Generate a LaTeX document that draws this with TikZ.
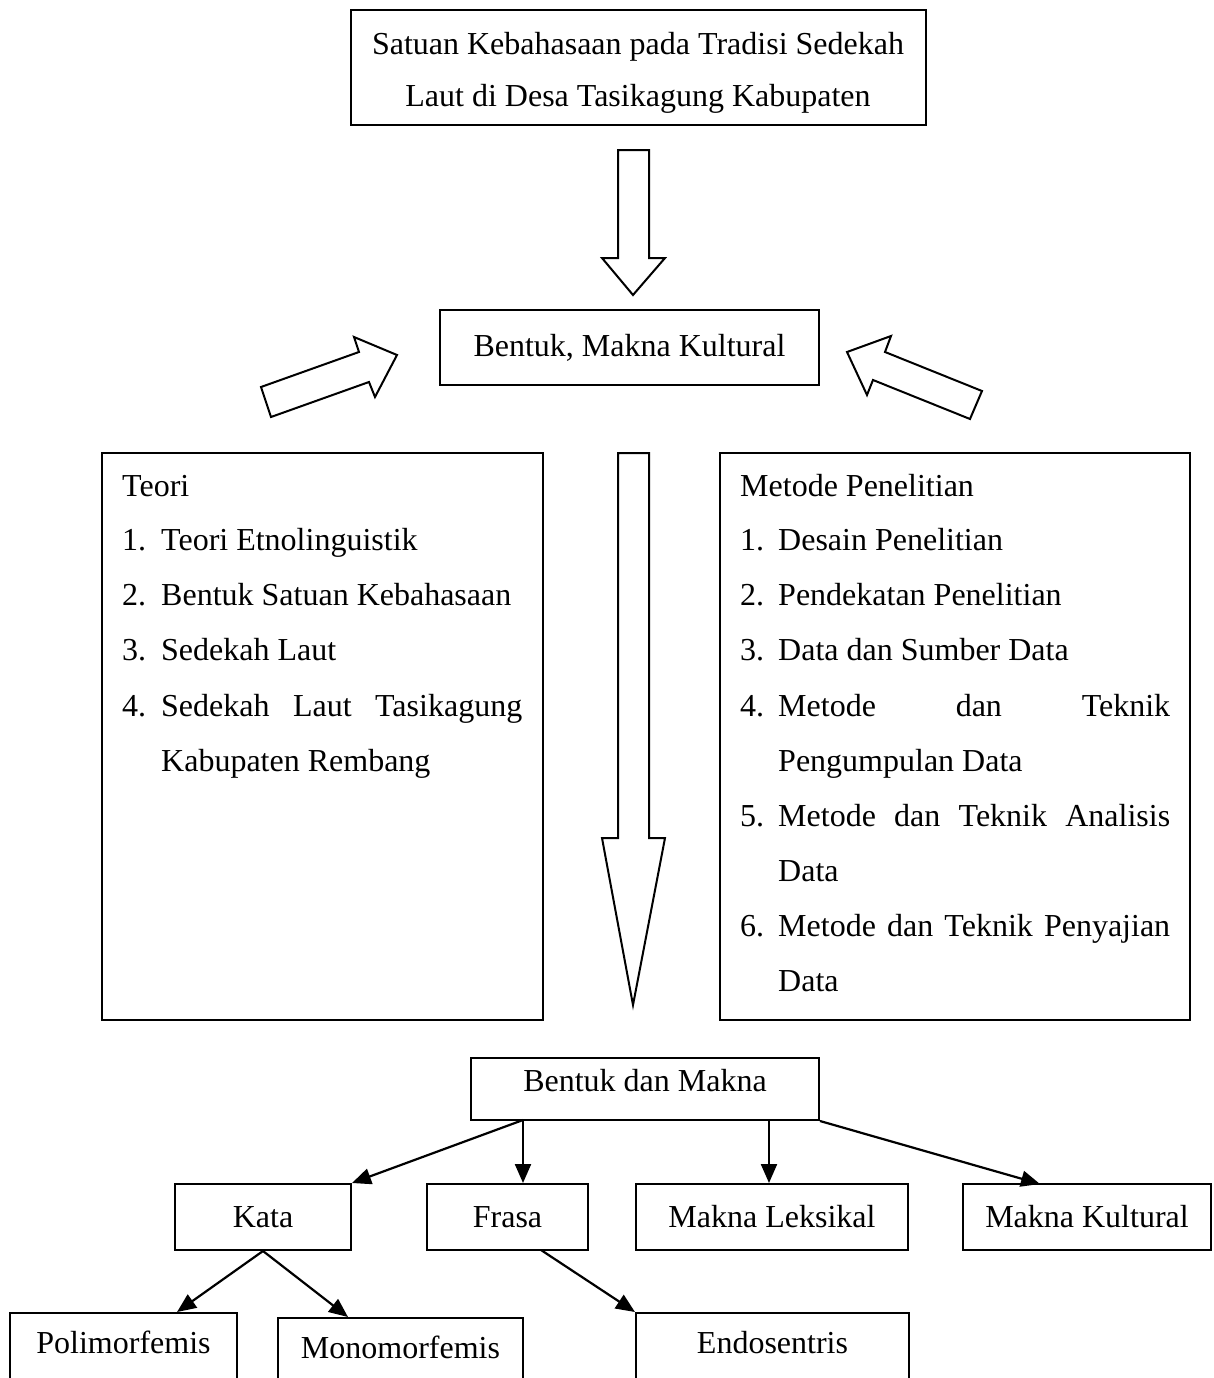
\documentclass[tikz,border=0pt]{standalone}
\usepackage{fontspec}
\setmainfont{Liberation Serif}
\usepackage{tikz}
\usetikzlibrary{arrows.meta, calc}

\tikzstyle{box} = [draw, line width=2pt, inner sep=0pt, minimum height=66pt]
\tikzstyle{cutbox} = [draw, line width=2pt, anchor=north, text height=24pt, text depth=60pt, inner xsep=0pt, inner ysep=16pt]
\tikzstyle{fatarrow} = [draw, line width=2pt, fill=white, line join=miter]
\tikzstyle{link} = [line width=2.2pt, -{Triangle[length=19pt, width=16pt]}]
\tikzstyle{listline} = [anchor=base west, inner sep=0pt]

\begin{document}
\begin{tikzpicture}[x=1pt, y=-1pt, every node/.style={font=\fontsize{32}{54}\selectfont}]
    \useasboundingbox (0,0) rectangle (1213,1378);
    \clip (0,0) rectangle (1213,1378);

    % judul
    \node[box, minimum width=575pt, minimum height=115pt] (judul) at (638,67.5) {};
    \node[anchor=base, inner sep=0pt] (judul1) at (638,55) {Satuan Kebahasaan pada Tradisi Sedekah};
    \node[anchor=base, inner sep=0pt] (judul2) at (638,107) {Laut di Desa Tasikagung Kabupaten};

    \draw[fatarrow] (618,150) -- (649,150) -- (649,258) -- (665,258) -- (633,295) -- (602,258) -- (618,258) -- cycle;

    \node[box, minimum width=379pt, minimum height=75pt] (fokus) at (629.5,347.5) {Bentuk, Makna Kultural};

    \draw[fatarrow] (261,387) -- (359,352) -- (354,337) -- (397,355) -- (375,397) -- (369,382) -- (271,417) -- cycle;
    \draw[fatarrow] (847,352) -- (891,336) -- (885,352) -- (982,391) -- (970,419) -- (873,380) -- (867,395) -- cycle;

    % teori
    \node[box, minimum width=441pt, minimum height=567pt] (teori) at (322.5,736.5) {};
    \node[listline] (t0) at (122,496) {Teori};
    \node[listline] (t1n) at (122,550) {1.};
    \node[listline] (t1) at (161,550) {Teori Etnolinguistik};
    \node[listline] (t2n) at (122,605) {2.};
    \node[listline] (t2) at (161,605) {Bentuk Satuan Kebahasaan};
    \node[listline] (t3n) at (122,660) {3.};
    \node[listline] (t3) at (161,660) {Sedekah Laut};
    \node[listline] (t4n) at (122,716) {4.};
    \node[listline] (t4) at (161,716) {\makebox[361pt]{Sedekah\hfill Laut\hfill Tasikagung}};
    \node[listline] (t4b) at (161,771) {Kabupaten Rembang};

    % metode
    \node[box, minimum width=470pt, minimum height=567pt] (metode) at (955,736.5) {};
    \node[listline] (m0) at (740,496) {Metode Penelitian};
    \node[listline] (m1n) at (740,550) {1.};
    \node[listline] (m1) at (778,550) {Desain Penelitian};
    \node[listline] (m2n) at (740,605) {2.};
    \node[listline] (m2) at (778,605) {Pendekatan Penelitian};
    \node[listline] (m3n) at (740,660) {3.};
    \node[listline] (m3) at (778,660) {Data dan Sumber Data};
    \node[listline] (m4n) at (740,716) {4.};
    \node[listline] (m4) at (778,716) {\makebox[392pt]{Metode\hfill dan\hfill Teknik}};
    \node[listline] (m4b) at (778,771) {Pengumpulan Data};
    \node[listline] (m5n) at (740,826) {5.};
    \node[listline] (m5) at (778,826) {\makebox[392pt]{Metode\hfill dan\hfill Teknik\hfill Analisis}};
    \node[listline] (m5b) at (778,881) {Data};
    \node[listline] (m6n) at (740,936) {6.};
    \node[listline] (m6) at (778,936) {\makebox[392pt]{Metode\hfill dan\hfill Teknik\hfill Penyajian}};
    \node[listline] (m6b) at (778,991) {Data};

    \draw[fatarrow] (618,453) -- (649,453) -- (649,838) -- (665,838) -- (633,1005) -- (602,838) -- (618,838) -- cycle;

    % hasil
    \node[box, minimum width=348pt, minimum height=62pt, text height=22pt, text depth=18pt] (hasil) at (645,1089) {Bentuk dan Makna};

    \node[box, minimum width=176pt] (kata) at (263,1217) {Kata};
    \node[box, minimum width=161pt] (frasa) at (507.5,1217) {Frasa};
    \node[box, minimum width=272pt] (leksikal) at (772,1217) {Makna Leksikal};
    \node[box, minimum width=248pt] (kultural) at (1087,1217) {Makna Kultural};

    \node[cutbox, minimum width=227pt] (poli) at (123.5,1312) {Polimorfemis};
    \node[cutbox, minimum width=245pt] (mono) at (400.5,1317) {Monomorfemis};
    \node[cutbox, minimum width=273pt] (endo) at (772.5,1312) {Endosentris};

    \coordinate (h1) at (523,1120);
    \coordinate (h2) at (769,1120);
    \coordinate (kul1) at (1040,1184);
    \coordinate (poli1) at (177,1312);
    \coordinate (mono1) at (348,1317);
    \coordinate (frasa1) at (541,1250);

    \draw[link] (h1) -- (kata.north east);
    \draw[link] (h1) -- (h1 |- frasa.north);
    \draw[link] (h2) -- (h2 |- leksikal.north);
    \draw[link] (hasil.south east) -- (kul1);
    \draw[link] (kata.south) -- (poli1);
    \draw[link] (kata.south) -- (mono1);
    \draw[link] (frasa1) -- (endo.north west);
\end{tikzpicture}
\end{document}
